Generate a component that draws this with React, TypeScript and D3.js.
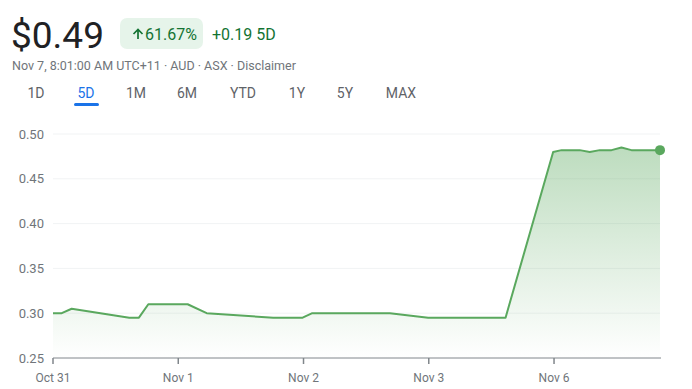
import * as d3 from 'd3'
import React from 'react'

// trading-day offsets from Oct 31 (one unit = one trading day) and prices
const days = [0, 0.07, 0.149, 0.609, 0.686, 0.761, 1.075, 1.227, 1.758, 1.993, 2.07, 2.69, 2.995, 3.613, 3.993, 4.06, 4.205, 4.285, 4.365, 4.459, 4.538, 4.618, 4.846]
const prices = [0.3, 0.3, 0.305, 0.295, 0.295, 0.31, 0.31, 0.3, 0.295, 0.295, 0.3, 0.3, 0.295, 0.295, 0.48, 0.482, 0.482, 0.48, 0.482, 0.482, 0.485, 0.482, 0.482]
const xTickDays = [0, 1, 2, 3, 4]
const xTickLabels = ['Oct 31', 'Nov 1', 'Nov 2', 'Nov 3', 'Nov 6']
const yTicks = [0.25, 0.3, 0.35, 0.4, 0.45, 0.5]
const tabs = ['1D', '5D', '1M', '6M', 'YTD', '1Y', '5Y', 'MAX']
const tabX = [36, 86, 136, 187, 243, 297, 345, 401]

const W = 692
const H = 389
const GREEN = '#5aa85e'
const FONT = 'Roboto, Arial, sans-serif'

export default function App() {
  const x = d3.scaleLinear().domain([0, 4.846]).range([53, 660])
  const y = d3.scaleLinear().domain([0.25, 0.5]).range([358, 134])
  const pts = days.map((d, i) => [d, prices[i]] as [number, number])
  const line = d3.line<[number, number]>().x(d => x(d[0])).y(d => y(d[1]))
  const area = d3.area<[number, number]>().x(d => x(d[0])).y0(358).y1(d => y(d[1]))
  const last = pts[pts.length - 1]

  return (
    <svg width={W} height={H} style={{ position: 'absolute', left: 0, top: 0, fontFamily: FONT }}>
      <defs>
        <linearGradient id="fill" x1="0" y1="0" x2="0" y2="1">
          <stop offset="0%" stopColor={GREEN} stopOpacity={0.4} />
          <stop offset="100%" stopColor={GREEN} stopOpacity={0} />
        </linearGradient>
      </defs>
      <rect width={W} height={H} fill="#fff" />

      {/* header */}
      <text x={11} y={48} fontSize={37} fill="#202124">$0.49</text>
      <rect x={120} y={18} width={83} height={31} rx={7} fill="#e6f4ea" />
      {/* up arrow icon */}
      <path d="M138 39 V29.5 M133.5 34 L138 29.5 L142.5 34" fill="none" stroke="#137333" strokeWidth={1.7} />
      <text x={145} y={39.5} fontSize={16} fill="#137333">61.67%</text>
      <text x={212} y={39.5} fontSize={16} fill="#137333">+0.19 5D</text>
      <text x={12} y={70} fontSize={12.5} fill="#70757a">Nov 7, 8:01:00 AM UTC+11 · AUD · ASX · Disclaimer</text>
      {tabs.map((t, i) => (
        <text key={t} x={tabX[i]} y={98} fontSize={14} textAnchor="middle"
          fill={t === '5D' ? '#1a73e8' : '#5f6368'}>{t}</text>
      ))}
      <rect x={74} y={103} width={25} height={3} rx={1.5} fill="#1a73e8" />

      {/* grid + y labels */}
      {yTicks.map(v => (
        <g key={v}>
          {v > 0.25 && <line x1={53} x2={660} y1={y(v)} y2={y(v)} stroke="#f1f3f4" />}
          <text x={44} y={y(v) + 4.5} fontSize={13} textAnchor="end" fill="#70757a">{v.toFixed(2)}</text>
        </g>
      ))}

      {/* area + line */}
      <path d={area(pts) ?? ''} fill="url(#fill)" />
      <path d={line(pts) ?? ''} fill="none" stroke={GREEN} strokeWidth={2} strokeLinejoin="round" />
      <circle cx={x(last[0])} cy={y(last[1])} r={5} fill={GREEN} />

      {/* x axis */}
      <line x1={53} x2={661} y1={358} y2={358} stroke="#80868b" strokeWidth={1} />
      {xTickDays.map((d, i) => (
        <g key={d}>
          <line x1={x(d)} x2={x(d)} y1={358} y2={364} stroke="#80868b" strokeWidth={1.5} />
          <text x={x(d)} y={382} fontSize={12} textAnchor="middle" fill="#70757a">{xTickLabels[i]}</text>
        </g>
      ))}
    </svg>
  )
}
